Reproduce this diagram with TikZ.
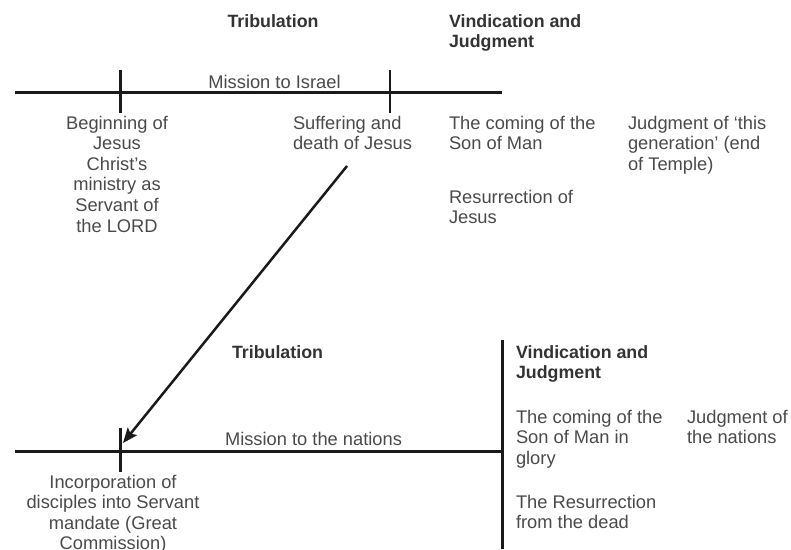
\documentclass[tikz,border=0pt]{standalone}
\usepackage{fontspec}
\setmainfont{Liberation Sans}
\usetikzlibrary{arrows.meta}
\definecolor{txt}{HTML}{4A4A4A}
\definecolor{hdr}{HTML}{333333}
\definecolor{ln}{HTML}{1A1A1A}
\tikzset{
  lbl/.style={inner sep=0pt, outer sep=0pt, text=txt, font=\fontsize{18.3}{20.6}\selectfont, align=left, anchor=base west},
  lblc/.style={lbl, align=center, anchor=base},
  hd/.style={inner sep=0pt, outer sep=0pt, text=hdr, font=\fontsize{17.8}{20.6}\selectfont\bfseries, align=left, anchor=base west},
  hdc/.style={hd, anchor=base},
  axis/.style={draw=ln, line width=3pt},
  tick/.style={draw=ln, line width=3pt},
  thintick/.style={draw=ln, line width=2pt},
  arr/.style={draw=ln, line width=2.5pt, -{Stealth[length=15pt,width=12pt,inset=3pt]}}
}
\begin{document}
\begin{tikzpicture}[x=1pt,y=-1pt]
\useasboundingbox (0,0) rectangle (791,549);
% top timeline
\coordinate (t0) at (15,92);
\coordinate (t1) at (502,92);
\draw[axis] (t0) -- (t1);
\coordinate (ta) at (120,70); \coordinate (tb) at (120,113);
\draw[tick] (ta) -- (tb);
\coordinate (tc) at (390,70); \coordinate (td) at (390,113);
\draw[thintick] (tc) -- (td);
% (base anchor of a multi-line node = baseline of its last line)
\node[hdc] (trib1) at (273,27) {Tribulation};
\node[hd] (vind1) at (449,47.6) {Vindication and\\Judgment};
\node[lblc] (mis1) at (274.5,88) {Mission to Israel};
\node[lblc] (beg) at (117,232) {Beginning of\\Jesus\\Christ’s\\ministry as\\Servant of\\the LORD};
\node[lbl] (suf) at (293,149.6) {Suffering and\\death of Jesus};
\node[lbl] (com1) at (449,149.6) {The coming of the\\Son of Man};
\node[lbl] (jud1) at (628,170.2) {Judgment of ‘this\\generation’ (end\\of Temple)};
\node[lbl] (res1) at (449,223.6) {Resurrection of\\Jesus};
% bottom timeline
\coordinate (b0) at (15,451);
\coordinate (b1) at (502,451);
\draw[axis] (b0) -- (b1);
\coordinate (ba) at (120,428); \coordinate (bb) at (120,472);
\draw[tick] (ba) -- (bb);
\coordinate (va) at (502,340); \coordinate (vb) at (502,549);
\draw[tick] (va) -- (vb);
\node[hdc] (trib2) at (277.5,358) {Tribulation};
\node[hd] (vind2) at (516,378.6) {Vindication and\\Judgment};
\node[lblc] (mis2) at (313.5,445) {Mission to the nations};
\node[lbl] (com2) at (516,464.2) {The coming of the\\Son of Man in\\glory};
\node[lbl] (jud2) at (687,443.6) {Judgment of\\the nations};
\node[lbl] (res2) at (516,528.6) {The Resurrection\\from the dead};
\node[lblc] (inc) at (113,549.8) {Incorporation of\\disciples into Servant\\mandate (Great\\Commission)};
% arrow
\coordinate (as) at (347,166);
\coordinate (ae) at (123,443);
\draw[arr] (as) -- (ae);
\end{tikzpicture}
\end{document}
